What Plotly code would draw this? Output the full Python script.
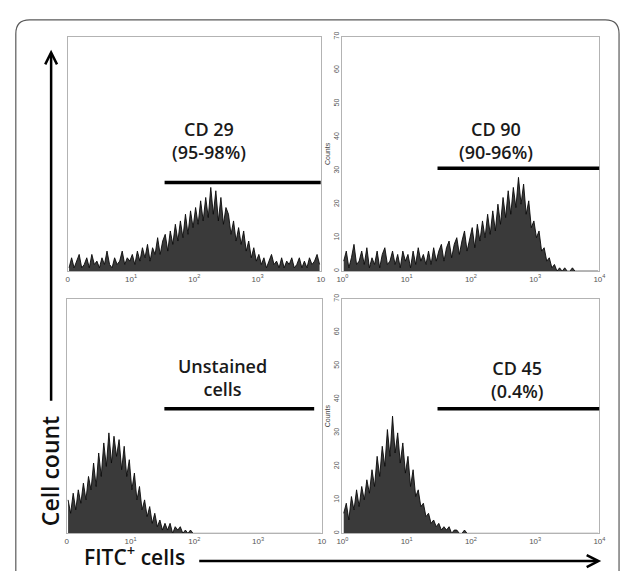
import plotly.graph_objects as go

W, H = 627, 571

# ---------------- data ----------------
# channel bins: position of each bin on the log10 fluorescence scale (decades)
channel_bins = [round(0.02 + 0.04 * i, 2) for i in range(100)]

cd29_counts = [
    1, 4, 1, 3, 5, 1, 2, 4, 1, 5, 2, 3, 1, 4, 2, 6, 2, 1, 4, 2, 3, 6, 2, 4, 3,
    5, 2, 6, 3, 7, 4, 8, 3, 7, 5, 10, 5, 9,
    11, 6, 12, 8, 14, 9, 15, 10, 17, 11, 18, 13,
    19, 14, 21, 15, 22, 16, 25, 17, 24, 15, 22, 14, 19,
    17, 11, 15, 9, 13, 8, 12, 6, 9, 4, 7, 3,
    5, 2, 4, 1, 3, 5, 2, 3, 1, 4, 1, 3, 2, 4, 1, 2, 4, 1, 3, 1, 4, 2, 3, 5, 2,
]
cd90_counts = [
    3, 6, 1, 4, 8, 2, 3, 6, 2, 7, 1, 4, 2, 6, 1, 5, 7, 2, 3, 6, 2, 5, 1, 6, 3,
    5, 1, 6, 2, 7, 3, 5, 2, 6, 2, 7, 3, 6,
    8, 3, 7, 9, 4, 8, 10, 5, 9, 12, 6, 10,
    13, 7, 14, 9, 15, 10, 17, 11, 18, 12, 20, 14, 22,
    16, 24, 17, 25, 19, 28, 20, 26, 17, 21, 13, 15,
    10, 12, 6, 7, 3, 4, 1, 2, 0, 1, 0, 1, 0, 0, 1, 0, 0, 0, 0, 0, 0, 0, 0, 0, 0,
]
unstained_counts = [
    10, 6, 12, 7, 13, 9, 15, 10, 17, 13,
    21, 14, 24, 17, 27, 20, 30, 21, 29, 23,
    28, 19, 26, 17, 22, 13, 18, 10, 14, 7,
    10, 5, 8, 3, 6, 2, 4, 1, 3, 1,
    3, 0, 2, 1, 2, 0, 1, 0, 1, 0,
    0, 0, 0, 0, 0, 0, 0, 0, 0, 0, 0, 0, 0, 0, 0, 0, 0, 0, 0, 0, 0, 0, 0, 0, 0,
    0, 0, 0, 0, 0, 0, 0, 0, 0, 0, 0, 0, 0, 0, 0, 0, 0, 0, 0, 0, 0, 0, 0, 0, 0,
]
cd45_counts = [
    6, 9, 4, 11, 7, 13, 8, 14, 10, 16,
    12, 19, 14, 23, 17, 26, 20, 31, 23, 35,
    24, 30, 21, 27, 18, 23, 14, 19, 11, 13,
    8, 9, 5, 6, 3, 4, 2, 3, 1, 2,
    1, 2, 0, 1, 1, 0, 0, 1, 0, 0,
    0, 0, 0, 0, 0, 0, 0, 0, 0, 0, 0, 0, 0, 0, 0, 0, 0, 0, 0, 0, 0, 0, 0, 0, 0,
    0, 0, 0, 0, 0, 0, 0, 0, 0, 0, 0, 0, 0, 0, 0, 0, 0, 0, 0, 0, 0, 0, 0, 0, 0,
]

panel_labels = ["CD 29<br>(95-98%)", "CD 90<br>(90-96%)", "Unstained<br>cells", "CD 45<br>(0.4%)"]
gate_start = [1.53, 1.48, 1.53, 1.48]
gate_end = [4.0, 4.0, 3.88, 4.0]
gate_level = [26.5, 30.7, 37.2, 37.2]

x_tick_vals = [0, 1, 2, 3, 4]
x_tick_text_right = ["10<sup>0</sup>", "10<sup>1</sup>", "10<sup>2</sup>", "10<sup>3</sup>", "10<sup>4</sup>"]
x_tick_text_left = ["0", "10<sup>1</sup>", "10<sup>2</sup>", "10<sup>3</sup>", "10"]
y_tick_vals = [0, 10, 20, 30, 40, 50, 60, 70]
y_tick_text = ["0", "10", "20", "30", "40", "50", "60", "70"]
y_title = "Counts"
y_axis_label = "Cell count"
x_axis_label = "FITC<sup>+</sup> cells"

# ---------------- layout helpers ----------------
def px(x):
    return x / W


def py(y):
    return 1 - y / H


panel_series = [cd29_counts, cd90_counts, unstained_counts, cd45_counts]
panel_domains = [
    ([px(63), px(321)], [py(269), py(32)]),
    ([px(343), px(605)], [py(269), py(32)]),
    ([px(62), px(322)], [py(534), py(297)]),
    ([px(343), px(605)], [py(534), py(297)]),
]
label_pos = [(207, 137), (500, 137), (221, 376), (521, 378)]

fig = go.Figure()
layout = dict(
    width=W, height=H, autosize=False,
    margin=dict(l=0, r=0, t=0, b=0),
    paper_bgcolor="white", plot_bgcolor="white",
    showlegend=False,
    shapes=[], annotations=[],
)

for i, (series, (dx, dy)) in enumerate(zip(panel_series, panel_domains)):
    n = i + 1
    xa = "xaxis" if n == 1 else f"xaxis{n}"
    ya = "yaxis" if n == 1 else f"yaxis{n}"
    xr = "x" if n == 1 else f"x{n}"
    yr = "y" if n == 1 else f"y{n}"
    right = i in (1, 3)
    fig.add_trace(go.Scatter(
        x=channel_bins, y=series, xaxis=xr, yaxis=yr,
        mode="lines", line=dict(color="#0a0a0a", width=0.9, shape="linear"),
        fill="tozeroy", fillcolor="#3a3a3a", hoverinfo="skip",
    ))
    layout[xa] = dict(
        domain=dx, range=[0, 4], anchor=yr,
        showgrid=False, zeroline=False,
        showline=True, linecolor="#b3b3b3", linewidth=1, mirror=True,
        tickvals=x_tick_vals,
        ticktext=x_tick_text_right if right else x_tick_text_left,
        tickfont=dict(family="Arial", size=8, color="#555555"),
        ticks="", ticklen=0,
    )
    layout[ya] = dict(
        domain=dy, range=[0, 70], anchor=xr,
        showgrid=False, zeroline=False,
        showline=True, linecolor="#b3b3b3", linewidth=1, mirror=True,
        tickvals=y_tick_vals, ticktext=y_tick_text,
        showticklabels=right, tickangle=-90,
        tickfont=dict(family="Arial", size=7, color="#555555"),
        ticks="",
        title=dict(text=y_title if right else "", font=dict(family="Arial", size=7, color="#444444"), standoff=1),
    )
    layout["shapes"].append(dict(
        type="line", xref=xr, yref=yr,
        x0=gate_start[i], x1=gate_end[i], y0=gate_level[i], y1=gate_level[i],
        line=dict(color="black", width=3.5),
    ))
    lx, ly = label_pos[i]
    layout["annotations"].append(dict(
        text=panel_labels[i], xref="paper", yref="paper",
        x=px(lx), y=py(ly), xanchor="center", yanchor="middle",
        showarrow=False, align="center",
        font=dict(family="Open Sans", size=18, color="#1a1a1a", weight=600),
    ))

# outer rounded frame
r = 14
x0, y0, x1, y1 = 10, 15, 625, 620
frame = (f"M {px(x0)},{py(y1)} L {px(x0)},{py(y0 + r)} Q {px(x0)},{py(y0)} {px(x0 + r)},{py(y0)} "
         f"L {px(x1 - r)},{py(y0)} Q {px(x1)},{py(y0)} {px(x1)},{py(y0 + r)} L {px(x1)},{py(y1)}")
layout["shapes"].append(dict(type="path", xref="paper", yref="paper", path=frame,
                             line=dict(color="#5a5a5a", width=1.2)))

# vertical arrow
layout["shapes"].append(dict(type="path", xref="paper", yref="paper",
                             path=f"M {px(46)},{py(400)} L {px(46)},{py(49)}",
                             line=dict(color="black", width=2.5)))
layout["shapes"].append(dict(type="path", xref="paper", yref="paper",
                             path=f"M {px(40)},{py(60)} L {px(46)},{py(48)} L {px(52)},{py(60)}",
                             line=dict(color="black", width=2.5)))
# horizontal arrow
layout["shapes"].append(dict(type="path", xref="paper", yref="paper",
                             path=f"M {px(197)},{py(562)} L {px(603)},{py(562)}",
                             line=dict(color="black", width=2.5)))
layout["shapes"].append(dict(type="path", xref="paper", yref="paper",
                             path=f"M {px(592)},{py(556)} L {px(604)},{py(562)} L {px(592)},{py(568)}",
                             line=dict(color="black", width=2.5)))

layout["annotations"].append(dict(
    text=y_axis_label, xref="paper", yref="paper", x=px(45), y=py(471),
    xanchor="center", yanchor="middle", textangle=-90, showarrow=False,
    font=dict(family="Open Sans", size=23, color="#111111", weight=600),
))
layout["annotations"].append(dict(
    text=x_axis_label, xref="paper", yref="paper", x=px(131), y=py(556),
    xanchor="center", yanchor="middle", showarrow=False, borderpad=0,
    font=dict(family="Open Sans", size=21, color="#111111", weight=600),
))

fig.update_layout(**layout)
fig.write_html(
    "out.html",
    config={"displayModeBar": False},
    post_script="document.body.style.margin='0';document.body.style.padding='0';"
                "document.documentElement.style.overflow='hidden';",
)
